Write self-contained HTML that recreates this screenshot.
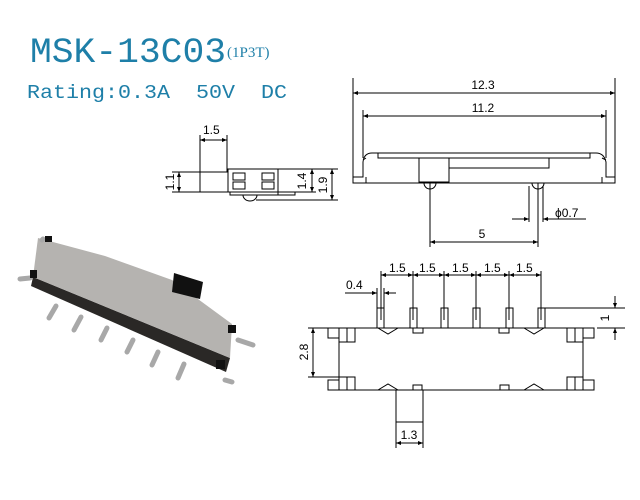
<!DOCTYPE html>
<html><head><meta charset="utf-8"><style>
html,body{margin:0;padding:0;background:#fff}
svg{display:block}
.t{font-family:"Liberation Sans",Arial,sans-serif;font-size:12px;fill:#000}
</style></head><body>
<svg width="640" height="500" viewBox="0 0 640 500" xmlns="http://www.w3.org/2000/svg">
<defs>
<marker id="a" viewBox="0 0 10 10" refX="10" refY="5" markerWidth="7" markerHeight="5" orient="auto-start-reverse"><path d="M0,1 L10,5 L0,9 z" fill="#000"/></marker>
</defs>
<text x="30" y="62" font-family="Liberation Mono,monospace" font-size="35" fill="#1e7fa8" textLength="196" lengthAdjust="spacingAndGlyphs">MSK-13C03</text>
<text x="227" y="57" font-family="Liberation Serif,serif" font-size="15" fill="#1e7fa8">(1P3T)</text>
<text x="27" y="98" font-family="Liberation Mono,monospace" font-size="19" fill="#1e7fa8" textLength="260" lengthAdjust="spacingAndGlyphs" xml:space="preserve">Rating:0.3A  50V  DC</text>

<!-- photo -->
<g>
<polygon points="33,277 230,358 226,372 31,286" fill="#2a2826"/>
<polygon points="38,238 105,256 172,280 232,324 230,358 33,277" fill="#b5b3b0"/>
<polygon points="174,273 203,282 200,299 172,292" fill="#111"/>
<g stroke="#a8a8a8" stroke-width="5" stroke-linecap="round">
<line x1="56" y1="306" x2="49" y2="318"/><line x1="81" y1="317" x2="74" y2="330"/>
<line x1="107" y1="328" x2="101" y2="340"/><line x1="133" y1="340" x2="127" y2="352"/>
<line x1="158" y1="352" x2="152" y2="365"/><line x1="184" y1="364" x2="178" y2="378"/>
<line x1="30" y1="278" x2="20" y2="279"/><line x1="42" y1="240" x2="43" y2="239"/>
<line x1="238" y1="340" x2="253" y2="345"/><line x1="225" y1="380" x2="232" y2="382"/>
</g>
<rect x="45" y="236" width="7" height="6" fill="#111"/><rect x="30" y="270" width="7" height="8" fill="#111"/>
<rect x="228" y="325" width="8" height="8" fill="#111"/><rect x="216" y="360" width="9" height="9" fill="#111"/>
</g>

<g fill="none" stroke="#000" stroke-width="1">
<line x1="200" y1="135" x2="200" y2="192"/><line x1="227" y1="135" x2="227" y2="172"/>
<line x1="200" y1="140" x2="227" y2="140" marker-start="url(#a)" marker-end="url(#a)"/>
<rect x="200" y="172" width="28" height="20"/>
<rect x="228" y="169" width="50" height="23"/>
<rect x="233" y="173" width="12" height="7"/><rect x="233" y="182" width="12" height="7"/>
<rect x="262" y="173" width="12" height="7"/><rect x="262" y="182" width="12" height="7"/>
<rect x="230" y="192" width="48" height="3"/>
<rect x="278" y="192" width="17" height="3"/>
<path d="M243,195 A7,6 0 0 0 257,195"/>
<line x1="172" y1="172" x2="200" y2="172"/><line x1="172" y1="192" x2="200" y2="192"/>
<line x1="179" y1="172" x2="179" y2="192" marker-start="url(#a)" marker-end="url(#a)"/>
<line x1="278" y1="169" x2="338" y2="169"/><line x1="295" y1="192" x2="316" y2="192"/><line x1="256" y1="200" x2="338" y2="200"/>
<line x1="312" y1="169" x2="312" y2="192" marker-start="url(#a)" marker-end="url(#a)"/>
<line x1="332" y1="169" x2="332" y2="200" marker-start="url(#a)" marker-end="url(#a)"/>

<line x1="353" y1="78" x2="353" y2="183"/><line x1="615" y1="78" x2="615" y2="183"/>
<line x1="353" y1="93" x2="615" y2="93" marker-start="url(#a)" marker-end="url(#a)"/>
<line x1="363" y1="110" x2="363" y2="158"/><line x1="606" y1="110" x2="606" y2="158"/>
<line x1="363" y1="116" x2="606" y2="116" marker-start="url(#a)" marker-end="url(#a)"/>
<path d="M353,183 L615,183 L615,177 L606,177 L606,162 Q604,153 596,153 L372,153 Q364,153 363,162 L363,177 L353,177 Z"/>
<path d="M366,158 L363,160 M602,158 L606,160"/>
<line x1="366" y1="177" x2="366" y2="183"/><line x1="602" y1="177" x2="602" y2="183"/>
<path d="M378,153 L378,158 L590,158 L590,153"/>
<rect x="419" y="158" width="30" height="24"/>
<path d="M449,168 L549,168 L549,158"/>
<path d="M424,183 A6,6 0 0 0 436,183 M430,183 L430,192"/>
<path d="M532,183 A6,6 0 0 0 544,183 M538,183 L538,192"/>
<line x1="430" y1="186" x2="430" y2="247"/><line x1="538" y1="186" x2="538" y2="247"/>
<line x1="430" y1="242" x2="538" y2="242" marker-start="url(#a)" marker-end="url(#a)"/>
<line x1="529" y1="186" x2="529" y2="222"/><line x1="543" y1="186" x2="543" y2="222"/>
<line x1="512" y1="219" x2="529" y2="219" marker-end="url(#a)"/>
<line x1="586" y1="219" x2="543" y2="219" marker-end="url(#a)"/>

<g id="half">
<rect x="328" y="328" width="11" height="10"/>
<rect x="339" y="328" width="8" height="14"/><rect x="347" y="328" width="8" height="14"/>
<rect x="328" y="380" width="11" height="10"/>
<rect x="339" y="377" width="8" height="13"/><rect x="347" y="377" width="8" height="13"/>
<line x1="339" y1="342" x2="339" y2="377"/>
<path d="M378,328 L388,334 L398,328"/>
<path d="M378,390 L388,384 L398,390"/>
<rect x="413" y="328" width="10" height="5"/>
<rect x="413" y="385" width="9" height="5"/>
</g>
<use href="#half" transform="translate(922,0) scale(-1,1)"/>
<line x1="328" y1="328" x2="594" y2="328"/>
<line x1="328" y1="390" x2="594" y2="390"/>
<g>
<rect x="377" y="308" width="7" height="20"/><rect x="410" y="308" width="7" height="20"/>
<rect x="441" y="308" width="7" height="20"/><rect x="473" y="308" width="7" height="20"/>
<rect x="506" y="308" width="7" height="20"/><rect x="538" y="308" width="7" height="20"/>
</g>
<line x1="381" y1="271" x2="381" y2="320"/><line x1="413" y1="271" x2="413" y2="320"/>
<line x1="444" y1="271" x2="444" y2="320"/><line x1="476" y1="271" x2="476" y2="320"/>
<line x1="509" y1="271" x2="509" y2="320"/><line x1="541" y1="271" x2="541" y2="320"/>
<line x1="381" y1="275" x2="413" y2="275" marker-start="url(#a)" marker-end="url(#a)"/>
<line x1="413" y1="275" x2="444" y2="275" marker-start="url(#a)" marker-end="url(#a)"/>
<line x1="444" y1="275" x2="476" y2="275" marker-start="url(#a)" marker-end="url(#a)"/>
<line x1="476" y1="275" x2="509" y2="275" marker-start="url(#a)" marker-end="url(#a)"/>
<line x1="509" y1="275" x2="541" y2="275" marker-start="url(#a)" marker-end="url(#a)"/>
<line x1="377" y1="288" x2="377" y2="308"/><line x1="384" y1="288" x2="384" y2="308"/>
<line x1="345" y1="293" x2="377" y2="293" marker-end="url(#a)"/>
<line x1="396" y1="293" x2="384" y2="293" marker-end="url(#a)"/>
<line x1="545" y1="308" x2="625" y2="308"/><line x1="597" y1="328" x2="625" y2="328"/>
<line x1="615" y1="296" x2="615" y2="308" marker-end="url(#a)"/>
<line x1="615" y1="340" x2="615" y2="328" marker-end="url(#a)"/>
<line x1="308" y1="328" x2="328" y2="328"/><line x1="308" y1="377" x2="339" y2="377"/>
<line x1="313" y1="328" x2="313" y2="377" marker-start="url(#a)" marker-end="url(#a)"/>
<path d="M396,390 L396,422 L423,422 L423,390"/>
<line x1="396" y1="422" x2="396" y2="448"/><line x1="423" y1="422" x2="423" y2="448"/>
<line x1="396" y1="443" x2="423" y2="443" marker-start="url(#a)" marker-end="url(#a)"/>
</g>

<text class="t" x="203" y="134">1.5</text>
<text class="t" transform="translate(174,182) rotate(-90)" text-anchor="middle">1.1</text>
<text class="t" transform="translate(306,181) rotate(-90)" text-anchor="middle">1.4</text>
<text class="t" transform="translate(327,185) rotate(-90)" text-anchor="middle">1.9</text>
<text class="t" x="483" y="89" text-anchor="middle">12.3</text>
<text class="t" x="483" y="112" text-anchor="middle">11.2</text>
<text class="t" x="482" y="238" text-anchor="middle">5</text>
<text class="t" x="555" y="217">ϕ0.7</text>
<text class="t" x="389" y="272">1.5</text>
<text class="t" x="419" y="272">1.5</text>
<text class="t" x="452" y="272">1.5</text>
<text class="t" x="484" y="272">1.5</text>
<text class="t" x="516" y="272">1.5</text>
<text class="t" x="346" y="289">0.4</text>
<text class="t" transform="translate(609,318) rotate(-90)" text-anchor="middle">1</text>
<text class="t" transform="translate(308,352) rotate(-90)" text-anchor="middle">2.8</text>
<text class="t" x="409" y="439" text-anchor="middle">1.3</text>
</svg>
</body></html>
